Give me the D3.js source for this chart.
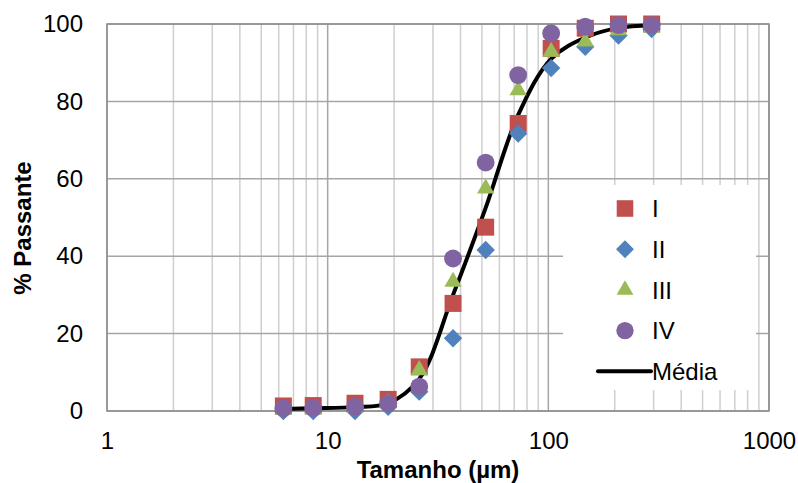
<!DOCTYPE html>
<html>
<head>
<meta charset="utf-8">
<script src="https://cdn.jsdelivr.net/npm/d3@7"></script>
<style>
  html, body { margin: 0; padding: 0; background: #fff; }
  svg { display: block; font-family: "Liberation Sans", Arial, sans-serif; }
</style>
</head>
<body>
<svg id="chart" width="798" height="483"></svg>
<script>
// ---- data ----
const sizes = [6.3, 8.6, 13.3, 18.8, 26, 37, 52, 73, 103, 147, 208, 294];
const serieI   = [1.3, 1.4, 2.0, 3.0, 11.4, 27.8, 47.5, 74.3, 93.7, 98.9, 100, 100];
const serieII  = [0, 0, 0, 1.1, 5.0, 18.8, 41.6, 71.7, 88.6, 94.1, 97.0, 98.7];
const serieIII = [0.3, 0.3, 0.8, 2.0, 10.6, 33.4, 57.5, 82.9, 92.8, 95.5, 98.4, 99.0];
const serieIV  = [0.7, 0.8, 1.1, 2.0, 6.3, 39.4, 64.2, 86.8, 97.6, 99.3, 99.7, 99.7];
const media    = [0.5, 0.7, 1.0, 2.0, 8.3, 30.0, 52.5, 76.5, 91.0, 96.5, 99.0, 99.6];
const seriesNames = ["I", "II", "III", "IV"];
const xTicks = [1, 10, 100, 1000];
const yTicks = [0, 20, 40, 60, 80, 100];
const xTitle = "Tamanho (µm)";
const yTitle = "% Passante";
const lineName = "Média";

// ---- layout ----
const svg = d3.select("#chart");
const L = 107, R = 769, T = 24, B = 411;
const x = d3.scaleLog().domain([1, 1000]).range([L, R]);
const y = d3.scaleLinear().domain([0, 100]).range([B, T]);

svg.append("rect").attr("width", 798).attr("height", 483).attr("fill", "#fff");

// minor vertical gridlines
const minor = [];
for (let d = 1; d < 1000; d *= 10) for (let k = 2; k <= 9; k++) minor.push(d * k);
svg.append("g").selectAll("line").data(minor).join("line")
  .attr("x1", d => x(d)).attr("x2", d => x(d))
  .attr("y1", T).attr("y2", B)
  .attr("stroke", "#cfcfcf").attr("stroke-width", 1.5);

// major vertical gridlines
svg.append("g").selectAll("line").data(xTicks).join("line")
  .attr("x1", d => x(d)).attr("x2", d => x(d))
  .attr("y1", T).attr("y2", B)
  .attr("stroke", "#a6a6a6").attr("stroke-width", 1.5);

// horizontal gridlines
svg.append("g").selectAll("line").data(yTicks).join("line")
  .attr("x1", L).attr("x2", R)
  .attr("y1", d => y(d)).attr("y2", d => y(d))
  .attr("stroke", "#a6a6a6").attr("stroke-width", 1.5);

// plot border
svg.append("rect").attr("x", L).attr("y", T).attr("width", R - L).attr("height", B - T)
  .attr("fill", "none").attr("stroke", "#8c8c8c").attr("stroke-width", 1.5);

// axes
const yAxis = svg.append("g").attr("transform", `translate(${L},0)`)
  .call(d3.axisLeft(y).tickValues(yTicks).tickSize(0).tickPadding(24));
const xAxis = svg.append("g").attr("transform", `translate(0,${B})`)
  .call(d3.axisBottom(x).tickValues(xTicks).tickFormat(d3.format("d")).tickSize(0).tickPadding(21));
[yAxis, xAxis].forEach(a => {
  a.select(".domain").remove();
  a.selectAll("text").attr("font-size", 24).attr("fill", "#000")
    .attr("font-family", "'Liberation Sans', Arial, sans-serif");
});

// axis titles
svg.append("text").attr("x", 438).attr("y", 478).attr("text-anchor", "middle")
  .attr("font-size", 24).attr("font-weight", "bold").text(xTitle);
svg.append("text").attr("transform", "translate(31,228) rotate(-90)")
  .attr("text-anchor", "middle").attr("font-size", 24).attr("font-weight", "bold").text(yTitle);

// mean line (drawn under markers)
const line = d3.line().x(d => x(d[0])).y(d => y(d[1])).curve(d3.curveCatmullRom.alpha(0.5));
svg.append("path").datum(sizes.map((s, i) => [s, media[i]]))
  .attr("d", line).attr("fill", "none").attr("stroke", "#000").attr("stroke-width", 4)
  .attr("stroke-linejoin", "round");

// marker definitions
const colors = ["#C0504D", "#4F81BD", "#9BBB59", "#8064A2"];
const symbols = [
  { type: d3.symbolSquare, size: 289, rot: 0 },
  { type: d3.symbolSquare, size: 169, rot: 45 },
  { type: d3.symbolTriangle, size: 130, rot: 0 },
  { type: d3.symbolCircle, size: 250, rot: 0 }
];
const allSeries = [serieI, serieII, serieIII, serieIV];

allSeries.forEach((vals, si) => {
  const sym = d3.symbol().type(symbols[si].type).size(symbols[si].size);
  svg.append("g").selectAll("path").data(sizes.map((s, i) => [s, vals[i]])).join("path")
    .attr("d", sym)
    .attr("transform", d => `translate(${x(d[0])},${y(d[1])}) rotate(${symbols[si].rot})`)
    .attr("fill", colors[si]);
});

// legend
const lg = svg.append("g");
lg.append("rect").attr("x", 563).attr("y", 185).attr("width", 193).attr("height", 205).attr("fill", "#fff");
seriesNames.forEach((name, si) => {
  const yy = 208.5 + si * 40.7;
  const sym = d3.symbol().type(symbols[si].type).size(symbols[si].size * 0.95);
  lg.append("path").attr("d", sym)
    .attr("transform", `translate(625,${yy}) rotate(${symbols[si].rot})`)
    .attr("fill", colors[si]);
  lg.append("text").attr("x", 652).attr("y", yy).attr("dy", "0.36em")
    .attr("font-size", 24).text(name);
});
const ly = 208.5 + 4 * 40.7;
lg.append("line").attr("x1", 598).attr("x2", 651).attr("y1", ly).attr("y2", ly)
  .attr("stroke", "#000").attr("stroke-width", 4).attr("stroke-linecap", "round");
lg.append("text").attr("x", 652).attr("y", ly).attr("dy", "0.36em").attr("font-size", 24).text(lineName);
</script>
</body>
</html>
